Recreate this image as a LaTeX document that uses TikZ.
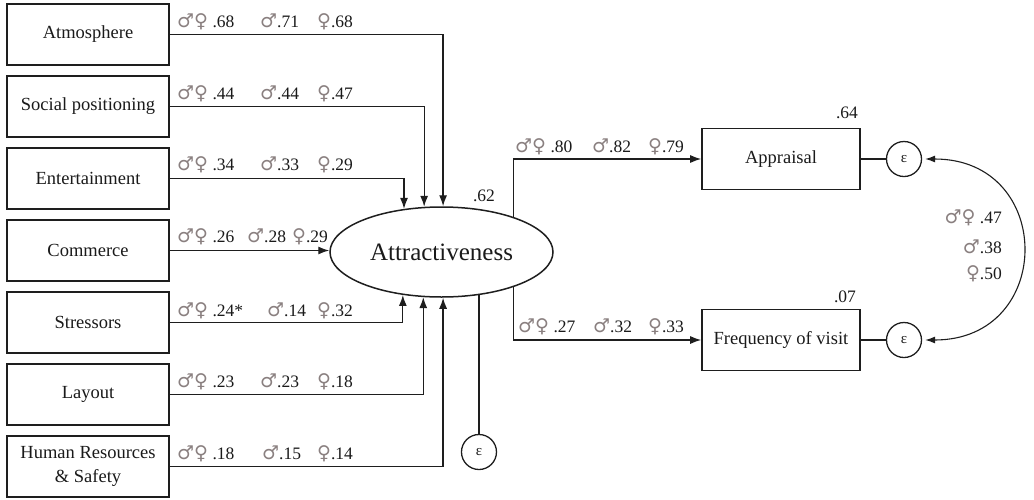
\documentclass[tikz,border=0pt]{standalone}
\usepackage{fontspec}
\setmainfont{Liberation Serif}
\newfontfamily\symf{DejaVu Sans}
\usetikzlibrary{arrows.meta,shapes.geometric,calc}
\definecolor{linec}{HTML}{1E1E1E}
\definecolor{txtc}{HTML}{1A1A1A}
\definecolor{symc}{HTML}{8A8080}
\newcommand\gsym[1]{{\fontsize{19}{20}\symf\color{symc}#1}}
\newcommand\gboth{\gsym{♂♀}}
\newcommand\gmale{\gsym{♂}}
\newcommand\gfem{\gsym{♀}}
\begin{document}
\begin{tikzpicture}[x=1pt,y=-1pt,
  box/.style={draw=linec, line width=1.6pt, minimum width=162pt, minimum height=61pt, inner sep=0pt, align=center, text=txtc, font=\fontsize{18.5}{24}\selectfont},
  rbox/.style={box, minimum width=158pt},
  arr/.style={-{Latex[length=11pt,width=8pt]}, line width=1.3pt, draw=linec},
  ln/.style={line width=1.3pt, draw=linec},
  err/.style={circle, draw=linec, line width=1.3pt, minimum size=35pt, inner sep=0pt, text=txtc, font=\fontsize{15}{16}\selectfont},
  lab/.style={anchor=base west, inner sep=0pt, text=txtc, font=\fontsize{17.5}{18}\selectfont},
  rlab/.style={lab, anchor=base east},
  clab/.style={lab, anchor=base},
]
\useasboundingbox (0,0) rectangle (1034,499);

% left boxes
\node[box] (atm) at (88,34.5) {Atmosphere};
\node[box] (soc) at (88,106.5) {Social positioning};
\node[box] (ent) at (88,178.5) {Entertainment};
\node[box] (com) at (88,250.5) {Commerce};
\node[box] (str) at (88,322.5) {Stressors};
\node[box] (lay) at (88,394.5) {Layout};
\node[box] (hrs) at (88,466.5) {Human Resources\\\& Safety};

% central latent
\node[ellipse, draw=linec, line width=1.5pt, minimum width=223pt, minimum height=90pt, inner sep=0pt, text=txtc, font=\fontsize{25}{28}\selectfont] (att) at (441.5,252) {Attractiveness};

% right boxes
\node[rbox] (app) at (781,159) {Appraisal};
\node[rbox] (frq) at (781,340) {Frequency of visit};

% error terms
\node[err] (e2) at (904,159) {ε};
\node[err] (e3) at (904,340) {ε};
\coordinate (ebtop) at (att.311.5);
\node[err] (e1) at (ebtop |- 0,452) {ε};

% connectors left
\draw[arr] (atm) -| (att.88);
\draw[arr] (soc) -| (att.111.5);
\draw[arr] (ent) -| (att.131.5);
\draw[arr] (com) -- (com -| att.west);
\draw[arr] (str) -| (att.228.5);
\draw[arr] (lay) -| (att.248.5);
\draw[arr] (hrs) -| (att.272);
\draw[ln] (e1) -- (ebtop);

% connectors right
\draw[arr] (att.26.3) |- (app);
\draw[arr] (att.-26.3) |- (frq);
\draw[ln] (app) -- (e2);
\draw[ln] (frq) -- (e3);
\draw[{Latex[length=10pt,width=7pt]}-{Latex[length=10pt,width=7pt]}, line width=1.1pt, draw=linec, shorten <=3pt, shorten >=3pt]
  (e2.east) .. controls +(133,0) and +(133,0) .. (e3.east);

% path labels left
\node[lab] at (177,27) {\gboth\ .68}; \node[lab] at (260,27) {\gmale.71}; \node[lab] at (317,27) {\gfem.68};
\node[lab] at (177,99) {\gboth\ .44}; \node[lab] at (260,99) {\gmale.44}; \node[lab] at (317,99) {\gfem.47};
\node[lab] at (177,170) {\gboth\ .34}; \node[lab] at (260,170) {\gmale.33}; \node[lab] at (317,170) {\gfem.29};
\node[lab] at (177,242) {\gboth\ .26}; \node[lab] at (247,242) {\gmale.28}; \node[lab] at (292,242) {\gfem.29};
\node[lab] at (177,316) {\gboth\ .24*}; \node[lab] at (267,316) {\gmale.14}; \node[lab] at (317,316) {\gfem.32};
\node[lab] at (177,387) {\gboth\ .23}; \node[lab] at (260,387) {\gmale.23}; \node[lab] at (317,387) {\gfem.18};
\node[lab] at (177,459) {\gboth\ .18}; \node[lab] at (262,459) {\gmale.15}; \node[lab] at (317,459) {\gfem.14};

% path labels right
\node[lab] at (515,152) {\gboth\ .80}; \node[lab] at (592,152) {\gmale.82}; \node[lab] at (648,152) {\gfem.79};
\node[lab] at (518,332) {\gboth\ .27}; \node[lab] at (593,332) {\gmale.32}; \node[lab] at (648,332) {\gfem.33};

% R-squared
\node[clab] at (484,201) {.62};
\node[clab] at (847,118) {.64};
\node[clab] at (845,302) {.07};

% correlation
\node[rlab] at (1002,223) {\gboth\ .47};
\node[rlab] at (1002,253) {\gmale.38};
\node[rlab] at (1002,279) {\gfem.50};
\end{tikzpicture}
\end{document}
